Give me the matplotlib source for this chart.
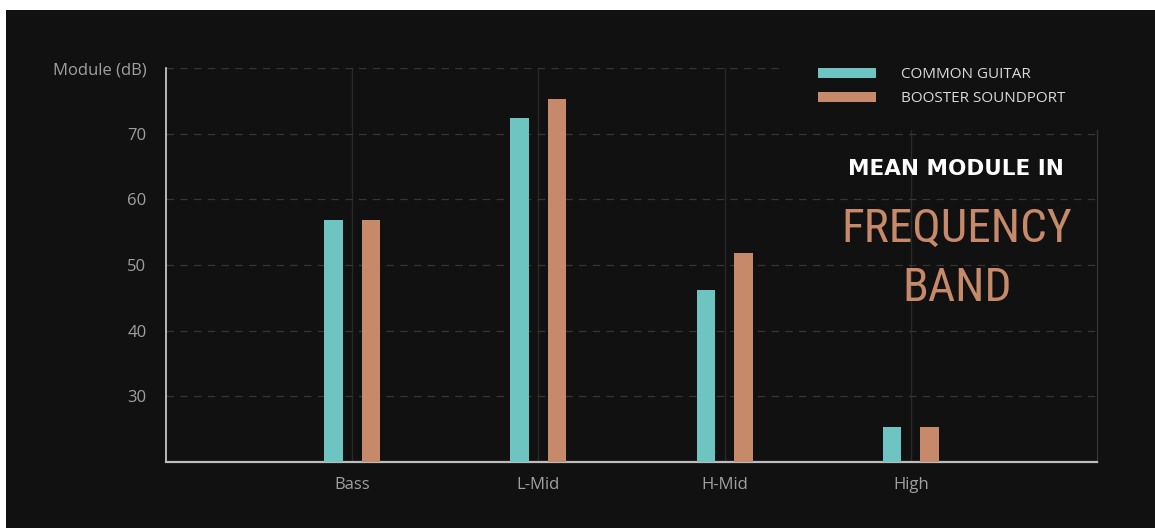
import numpy as np
import matplotlib
matplotlib.use("Agg")
import matplotlib.pyplot as plt
from matplotlib import font_manager as fm
from matplotlib.patches import Rectangle

# data
bands = ["Bass", "L-Mid", "H-Mid", "High"]
common_guitar = [56.8, 72.4, 46.2, 25.3]
booster_soundport = [56.8, 75.3, 51.8, 25.3]
yticks = [30, 40, 50, 60, 70, 80]
ytick_labels = ["30", "40", "50", "60", "70", "Module (dB)"]

bg = "#111111"
cyan = "#6dc4c0"
tan = "#c6896a"
grey_txt = "#a0a0a0"


def pick(names):
    for n in names:
        try:
            fm.findfont(fm.FontProperties(family=n), fallback_to_default=False)
            return n
        except ValueError:
            pass
    return "DejaVu Sans"


body_font = pick(["Open Sans", "Lato", "DejaVu Sans"])
narrow_font = pick(["Roboto Condensed", "Liberation Sans Narrow",
                    "DejaVu Sans Condensed", "Liberation Sans"])

W, H = 1155, 528
fig = plt.figure(figsize=(W / 100, H / 100), dpi=100, facecolor="white")
# dark panel (thin white margin on the top and left)
fig.patches.append(Rectangle((6 / W, 0), 1, 1 - 10 / H, transform=fig.transFigure,
                             facecolor=bg, edgecolor="none", zorder=-1))

ax = fig.add_axes([166 / W, 1 - 462 / H, (1097 - 166) / W, (462 - 68) / H])
ax.set_facecolor(bg)

x = np.arange(len(bands))
w = 0.1
ax.bar(x - w, common_guitar, w, color=cyan, zorder=3, label="COMMON GUITAR")
ax.bar(x + w, booster_soundport, w, color=tan, zorder=3, label="BOOSTER SOUNDPORT")

ax.set_xlim(-1, 4)
ax.set_ylim(20, 80)
ax.set_xticks(x)
ax.set_xticklabels(bands)
ax.set_yticks(yticks)
ax.set_yticklabels(ytick_labels)
ax.tick_params(axis="both", length=0, colors=grey_txt, labelsize=12)
ax.tick_params(axis="y", pad=14)
ax.tick_params(axis="x", pad=11)
for lab in ax.get_xticklabels() + ax.get_yticklabels():
    lab.set_fontfamily(body_font)

ax.grid(axis="y", color="#363636", linestyle=(0, (6, 5)), linewidth=0.9, zorder=1)
ax.grid(axis="x", color="#292929", linestyle="-", linewidth=1, zorder=1)

ax.spines["top"].set_visible(False)
ax.spines["left"].set_color("#d4d4d4")
ax.spines["left"].set_linewidth(1.2)
ax.spines["bottom"].set_color("#bdbdbd")
ax.spines["bottom"].set_linewidth(1.6)
ax.spines["right"].set_color("#333333")
ax.spines["right"].set_linewidth(1)

# mask behind the legend (hides grid and right spine there)
ax.add_patch(Rectangle((783 / W, 1 - 130 / H), 1 - 783 / W, 120 / H,
                       transform=fig.transFigure, facecolor=bg, edgecolor="none",
                       zorder=4, clip_on=False))

leg = ax.legend(loc="upper left", bbox_to_anchor=(806 / W, 1 - 55 / H),
                bbox_transform=fig.transFigure, frameon=False,
                prop={"family": body_font, "size": 11},
                handlelength=3.8, handleheight=0.65, handletextpad=1.6,
                labelspacing=0.6, borderpad=0.3)
leg.set_zorder(5)
for t in leg.get_texts():
    t.set_color("#dadada")

fig.text(956 / W, 1 - 175 / H, "MEAN MODULE IN", color="white", fontsize=15.5,
         fontweight="bold", family="DejaVu Sans", ha="center", va="baseline")
fig.text(957 / W, 1 - 242 / H, "FREQUENCY", color=tan, fontsize=34,
         family=narrow_font, ha="center", va="baseline")
fig.text(957 / W, 1 - 301 / H, "BAND", color=tan, fontsize=34,
         family=narrow_font, ha="center", va="baseline")

fig.savefig("out.png", dpi=100, facecolor=fig.get_facecolor())
